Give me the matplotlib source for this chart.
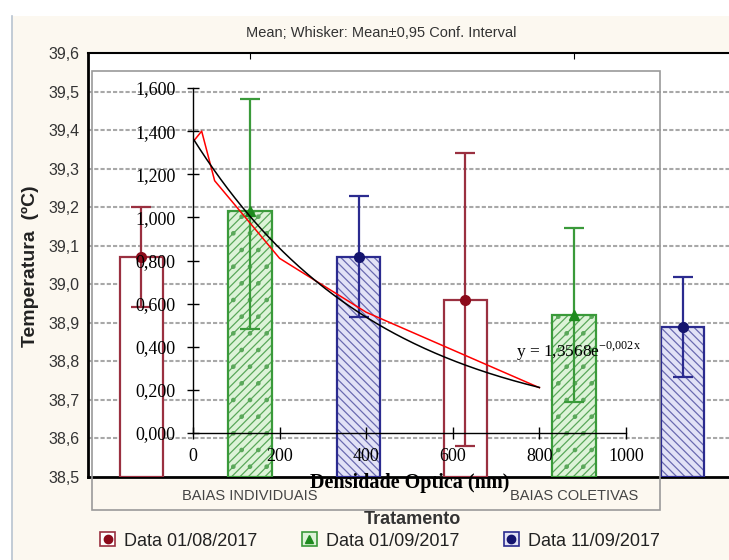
import numpy as np
import matplotlib
matplotlib.use("Agg")
import matplotlib.pyplot as plt
from matplotlib.patches import Rectangle, Patch
from matplotlib.lines import Line2D

# --- data: Statistica bar chart (mean + 0.95 conf. interval) ---
grupos = ["BAIAS INDIVIDUAIS", "BAIAS COLETIVAS"]
series = ["Data 01/08/2017", "Data 01/09/2017", "Data 11/09/2017"]
media = [[39.07, 38.96], [39.19, 38.92], [39.07, 38.89]]
ic_sup = [[39.20, 39.34], [39.48, 39.145], [39.23, 39.02]]
ic_inf = [[38.94, 38.58], [38.885, 38.695], [38.915, 38.76]]

# --- data: overlaid Excel chart ---
dens_x = [0, 20, 50, 200, 400, 800]
dens_y = [1.35, 1.40, 1.17, 0.81, 0.56, 0.21]
equacao = "y = 1,3568e$^{\\mathregular{-0{,}002x}}$"

W, H = 729, 560
def fx(px):
    return px / W
def fy(py):
    return 1 - py / H

cores_borda = ["#9A3040", "#3A9A3A", "#2B2B8F"]
cores_fundo = ["#FFFFFF", "#DDF3D8", "#E2E2F6"]
cores_hatch = ["#9A3040", "#5AA85A", "#6A6AB0"]
hatches = [None, "////.", "\\\\\\\\"]
marcadores = ["o", "^", "o"]
cores_media = ["#8B0A1A", "#1E8A1E", "#14146E"]

plt.rcParams["font.family"] = ["Liberation Sans", "DejaVu Sans"]
plt.rcParams["hatch.linewidth"] = 0.9

fig = plt.figure(figsize=(W / 100, H / 100), dpi=100, facecolor="white")
# cream window background + left border
fig.patches.append(Rectangle((fx(12), 0), 1 - fx(12), fy(16), transform=fig.transFigure,
                             facecolor="#FCF8F0", edgecolor="none", zorder=-5))
fig.lines.append(Line2D([fx(12), fx(12)], [0, fy(16)], transform=fig.transFigure,
                        color="#B8C4D0", lw=1.2, zorder=-4))

# Statistica axes
ax = fig.add_axes([fx(88), fy(477), fx(736) - fx(88), fy(53) - fy(477)])
ax.set_facecolor("white")
ax.set_xlim(-0.5, 1.5)
ax.set_ylim(38.5, 39.6)
ax.set_yticks(np.arange(38.5, 39.61, 0.1))
ax.set_yticklabels([f"{v:.1f}".replace(".", ",") for v in np.arange(38.5, 39.61, 0.1)],
                   fontsize=11.5, color="#333333")
ax.tick_params(axis="y", length=0, pad=6)
for v in np.arange(38.6, 39.55, 0.1):
    ax.axhline(v, color="#A8A8A8", lw=1.5, ls=(0, (2, 1)), zorder=0)

ax.set_xticks([0, 1])
ax.set_xticklabels(grupos, fontsize=10.5, color="#444444")
ax.tick_params(axis="x", bottom=False, top=True, direction="in", length=4, pad=9)

for s in ["left", "bottom"]:
    ax.spines[s].set_linewidth(2)
ax.spines["top"].set_linewidth(1.5)
ax.spines["right"].set_visible(False)

x = np.arange(len(grupos))
desloc = [-0.335, 0, 0.335]
larg = 0.133
base = 38.5
for i in range(3):
    xs = x + desloc[i]
    alturas = np.array(media[i]) - base
    ax.bar(xs, alturas, larg, bottom=base, color=cores_fundo[i], edgecolor=cores_hatch[i],
           hatch=hatches[i], linewidth=0, zorder=2)
    ax.bar(xs, alturas, larg, bottom=base, facecolor="none", edgecolor=cores_borda[i],
           linewidth=1.6, zorder=3)
    err = [np.array(media[i]) - np.array(ic_inf[i]), np.array(ic_sup[i]) - np.array(media[i])]
    ax.errorbar(xs, media[i], yerr=err, fmt="none", ecolor=cores_borda[i], elinewidth=1.6,
                capsize=7.5, capthick=1.6, zorder=4)
    ax.plot(xs, media[i], ls="none", marker=marcadores[i], ms=7, color=cores_media[i], zorder=5)

fig.text(fx(381), fy(33), "Mean; Whisker: Mean\u00b10,95 Conf. Interval", ha="center",
         va="center", fontsize=10.5, color="#333333")
fig.text(fx(412), fy(519), "Tratamento", ha="center", va="center", fontsize=13,
         fontweight="bold", color="#333333")
fig.text(fx(30), fy(266), "Temperatura  (\u00baC)", ha="center", va="center", rotation=90,
         fontsize=14, fontweight="bold", color="#222222")

handles = []
for i in range(3):
    handles.append((Patch(facecolor=cores_fundo[i], edgecolor=cores_borda[i], lw=1.2),
                    Line2D([], [], ls="none", marker=marcadores[i], ms=6, color=cores_media[i])))
fig.legend(handles, series, loc="center", bbox_to_anchor=(fx(380), fy(541)), ncol=3,
           frameon=False, fontsize=13, handlelength=0.8, handleheight=0.8,
           handletextpad=0.5, columnspacing=2.5, labelcolor="#222222")

# Excel chart frame
fig.patches.append(Rectangle((fx(92), fy(510)), fx(660) - fx(92), fy(71) - fy(510),
                             transform=fig.transFigure, facecolor="none",
                             edgecolor="#9A9A9A", lw=1.2, zorder=5))

ax2 = fig.add_axes([fx(193), fy(433), fx(626) - fx(193), fy(88) - fy(433)])
ax2.patch.set_visible(False)
ax2.set_xlim(0, 1000)
ax2.set_ylim(0, 1.6)
ax2.set_xticks(np.arange(0, 1001, 200))
ax2.set_yticks(np.arange(0, 1.61, 0.2))
ax2.set_yticklabels([f"{v:.3f}".replace(".", ",") for v in np.arange(0, 1.61, 0.2)])
for s in ["top", "right"]:
    ax2.spines[s].set_visible(False)
for s in ["left", "bottom"]:
    ax2.spines[s].set_linewidth(1)
ax2.tick_params(direction="inout", length=9, width=1, labelsize=13)
ax2.tick_params(axis="y", pad=8)
ax2.tick_params(axis="x", pad=6)
for lab in ax2.get_xticklabels() + ax2.get_yticklabels():
    lab.set_family(["Liberation Serif", "DejaVu Serif"])

ax2.plot(dens_x, dens_y, color="red", lw=1.1)
coef = np.polyfit(dens_x, np.log(dens_y), 1)
xt = np.linspace(0, 800, 200)
ax2.plot(xt, np.exp(coef[1]) * np.exp(coef[0] * xt), color="black", lw=1.1)
ax2.text(890, 0.38, equacao, ha="center", va="center", fontsize=12.5,
         family=["Liberation Serif", "DejaVu Serif"])
fig.text(fx(410), fy(483), "Densidade Optica (nm)", ha="center", va="center", fontsize=14.5,
         fontweight="bold", family=["Liberation Serif", "DejaVu Serif"], zorder=6)

fig.savefig("out.png", dpi=100, facecolor=fig.get_facecolor())
